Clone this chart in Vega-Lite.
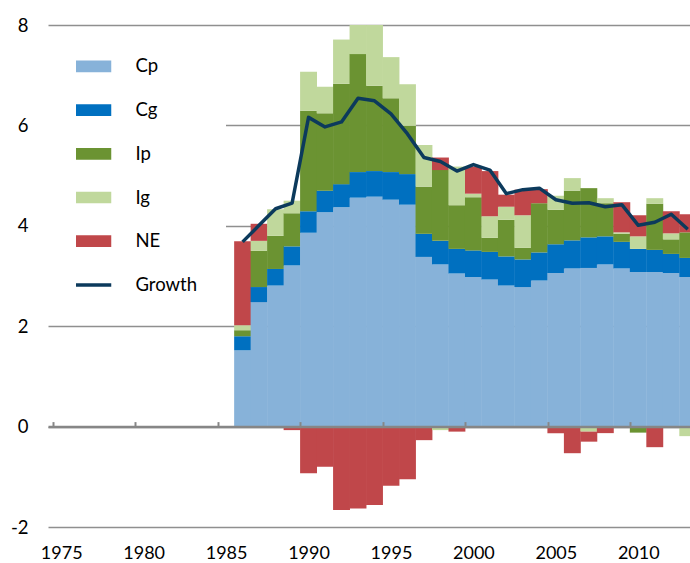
{
  "$schema": "https://vega.github.io/schema/vega-lite/v6.json",
  "width": 642,
  "height": 502,
  "autosize": {"type": "none"},
  "padding": {"left": 48, "top": 25, "right": 0, "bottom": 36},
  "background": "white",
  "config": {
    "view": {"stroke": null},
    "font": "Lato",
    "axis": {"labelFont": "Lato", "labelFontSize": 18.5, "labelColor": "#000000"},
    "axisY": {
      "grid": true, "gridColor": "#8f8f8f", "gridWidth": 1.5,
      "domain": false, "ticks": false, "labelPadding": 20, "labelExpr": "'' + datum.value"
    },
    "legend": {"labelFont": "Lato", "labelFontSize": 18.5, "labelColor": "#000000"}
  },
  "datasets": {
    "d": [
      {"year": 1986, "Cp": 1.52, "Cg": 0.28, "Ip": 0.12, "Ig": 0.10, "NE": 1.67, "Growth": 3.68},
      {"year": 1987, "Cp": 2.48, "Cg": 0.30, "Ip": 0.72, "Ig": 0.20, "NE": 0.34, "Growth": 4.01},
      {"year": 1988, "Cp": 2.81, "Cg": 0.33, "Ip": 0.66, "Ig": 0.53, "NE": 0.0, "Growth": 4.34},
      {"year": 1989, "Cp": 3.21, "Cg": 0.38, "Ip": 0.66, "Ig": 0.25, "NE": -0.07, "Growth": 4.45},
      {"year": 1990, "Cp": 3.86, "Cg": 0.43, "Ip": 2.00, "Ig": 0.78, "NE": -0.93, "Growth": 6.16},
      {"year": 1991, "Cp": 4.27, "Cg": 0.43, "Ip": 1.54, "Ig": 0.53, "NE": -0.80, "Growth": 5.97},
      {"year": 1992, "Cp": 4.37, "Cg": 0.46, "Ip": 2.00, "Ig": 0.88, "NE": -1.66, "Growth": 6.07},
      {"year": 1993, "Cp": 4.56, "Cg": 0.51, "Ip": 2.35, "Ig": 0.74, "NE": -1.63, "Growth": 6.54},
      {"year": 1994, "Cp": 4.58, "Cg": 0.51, "Ip": 1.70, "Ig": 1.26, "NE": -1.56, "Growth": 6.49},
      {"year": 1995, "Cp": 4.52, "Cg": 0.55, "Ip": 1.47, "Ig": 0.82, "NE": -1.18, "Growth": 6.23},
      {"year": 1996, "Cp": 4.42, "Cg": 0.61, "Ip": 0.96, "Ig": 0.83, "NE": -1.05, "Growth": 5.83},
      {"year": 1997, "Cp": 3.38, "Cg": 0.46, "Ip": 0.94, "Ig": 0.83, "NE": -0.27, "Growth": 5.36},
      {"year": 1998, "Cp": 3.23, "Cg": 0.47, "Ip": 1.41, "Ig": -0.07, "NE": 0.25, "Growth": 5.28},
      {"year": 1999, "Cp": 3.05, "Cg": 0.49, "Ip": 0.87, "Ig": 0.77, "NE": -0.10, "Growth": 5.09},
      {"year": 2000, "Cp": 2.98, "Cg": 0.53, "Ip": 1.06, "Ig": 0.07, "NE": 0.54, "Growth": 5.22},
      {"year": 2001, "Cp": 2.93, "Cg": 0.55, "Ip": 0.28, "Ig": 0.43, "NE": 0.90, "Growth": 5.11},
      {"year": 2002, "Cp": 2.81, "Cg": 0.58, "Ip": 0.73, "Ig": 0.26, "NE": 0.24, "Growth": 4.64},
      {"year": 2003, "Cp": 2.78, "Cg": 0.55, "Ip": 0.23, "Ig": 0.65, "NE": 0.51, "Growth": 4.72},
      {"year": 2004, "Cp": 2.91, "Cg": 0.56, "Ip": 0.98, "Ig": 0.0, "NE": 0.28, "Growth": 4.75},
      {"year": 2005, "Cp": 3.06, "Cg": 0.57, "Ip": 0.69, "Ig": 0.28, "NE": -0.13, "Growth": 4.52},
      {"year": 2006, "Cp": 3.15, "Cg": 0.56, "Ip": 0.99, "Ig": 0.25, "NE": -0.53, "Growth": 4.45},
      {"year": 2007, "Cp": 3.16, "Cg": 0.61, "Ip": 0.98, "Ig": -0.10, "NE": -0.20, "Growth": 4.46},
      {"year": 2008, "Cp": 3.23, "Cg": 0.56, "Ip": 0.66, "Ig": 0.10, "NE": -0.13, "Growth": 4.38},
      {"year": 2009, "Cp": 3.15, "Cg": 0.53, "Ip": 0.16, "Ig": 0.03, "NE": 0.60, "Growth": 4.42},
      {"year": 2010, "Cp": 3.08, "Cg": 0.46, "Ip": -0.12, "Ig": 0.25, "NE": 0.42, "Growth": 4.01},
      {"year": 2011, "Cp": 3.08, "Cg": 0.44, "Ip": 0.92, "Ig": 0.11, "NE": -0.41, "Growth": 4.07},
      {"year": 2012, "Cp": 3.06, "Cg": 0.38, "Ip": 0.29, "Ig": 0.12, "NE": 0.44, "Growth": 4.23},
      {"year": 2013, "Cp": 2.98, "Cg": 0.38, "Ip": 0.51, "Ig": -0.19, "NE": 0.36, "Growth": 3.93}
    ],
    "rank": [
      {"c": "Cp", "r": 1},
      {"c": "Cg", "r": 2},
      {"c": "Ip", "r": 3},
      {"c": "Ig", "r": 4},
      {"c": "NE", "r": 5}
    ]
  },
  "data": {"name": "d"},
  "layer": [
    {
      "transform": [
        {"fold": ["Cp", "Cg", "Ip", "Ig", "NE"], "as": ["c", "v"]},
        {"lookup": "c", "from": {"data": {"name": "rank"}, "key": "c", "fields": ["r"]}}
      ],
      "mark": {"type": "bar", "width": 16.9, "clip": true},
      "encoding": {
        "x": {
          "field": "year", "type": "quantitative",
          "scale": {"domain": [1974.5, 2012.833], "nice": false, "zero": false},
          "axis": {
            "orient": "bottom", "values": [1975, 1980, 1985, 1990, 1995, 2000, 2005, 2010],
            "format": "d", "ticks": false, "domain": false, "grid": false,
            "labelBaseline": "alphabetic", "labelPadding": 31, "labelFontSize": 18,
            "title": null, "labelFlush": false, "labelOverlap": false
          }
        },
        "y": {
          "field": "v", "type": "quantitative", "stack": "zero",
          "scale": {"domain": [-2, 8], "nice": false},
          "axis": {"values": [-2, 0, 2, 4, 6, 8], "title": null}
        },
        "fill": {
          "field": "c", "type": "nominal",
          "scale": {
            "domain": ["Cp", "Cg", "Ip", "Ig", "NE", "Growth"],
            "range": ["#87b2d9", "#0070c0", "#6b9332", "#c0d89c", "#c0474a", "#0c3a5c"]
          },
          "legend": {
            "title": null, "orient": "none", "legendX": 0, "legendY": 4.4,
            "direction": "vertical", "fillColor": "white", "padding": 28,
            "symbolType": "M-1,-0.225H1V0.225H-1Z", "symbolSize": 2704, "symbolStrokeWidth": 0,
            "symbolOffset": 0, "labelOffset": 41, "clipHeight": 18, "rowPadding": 24.7,
            "encode": {
              "symbols": {
                "update": {
                  "shape": {"signal": "datum.value === 'Growth' ? 'stroke' : 'M-1,-0.225H1V0.225H-1Z'"},
                  "strokeWidth": {"signal": "datum.value === 'Growth' ? 3.5 : 0"},
                  "stroke": {"signal": "scale('fill', datum.value)"},
                  "fill": {"signal": "scale('fill', datum.value)"}
                }
              }
            }
          }
        },
        "order": {"field": "r", "type": "quantitative"}
      }
    },
    {
      "mark": {"type": "line", "clip": true, "strokeWidth": 3.5, "strokeJoin": "round", "stroke": "#0c3a5c"},
      "encoding": {
        "x": {
          "field": "year", "type": "quantitative",
          "scale": {"domain": [1974.5, 2012.833], "nice": false, "zero": false},
          "axis": {
            "orient": "top", "offset": -401.6,
            "values": [1974.5, 1979.5, 1984.5, 1989.5, 1994.5, 1999.5, 2004.5, 2009.5],
            "labels": false, "ticks": true, "tickSize": 5, "tickWidth": 2, "tickColor": "#868686",
            "domain": true, "domainColor": "#868686", "domainWidth": 2.5, "grid": false,
            "title": null, "zindex": 1
          }
        },
        "y": {
          "field": "Growth", "type": "quantitative",
          "scale": {"domain": [-2, 8], "nice": false},
          "axis": {"values": [-2, 0, 2, 4, 6, 8], "title": null}
        }
      }
    }
  ],
  "resolve": {"axis": {"x": "independent"}}
}
